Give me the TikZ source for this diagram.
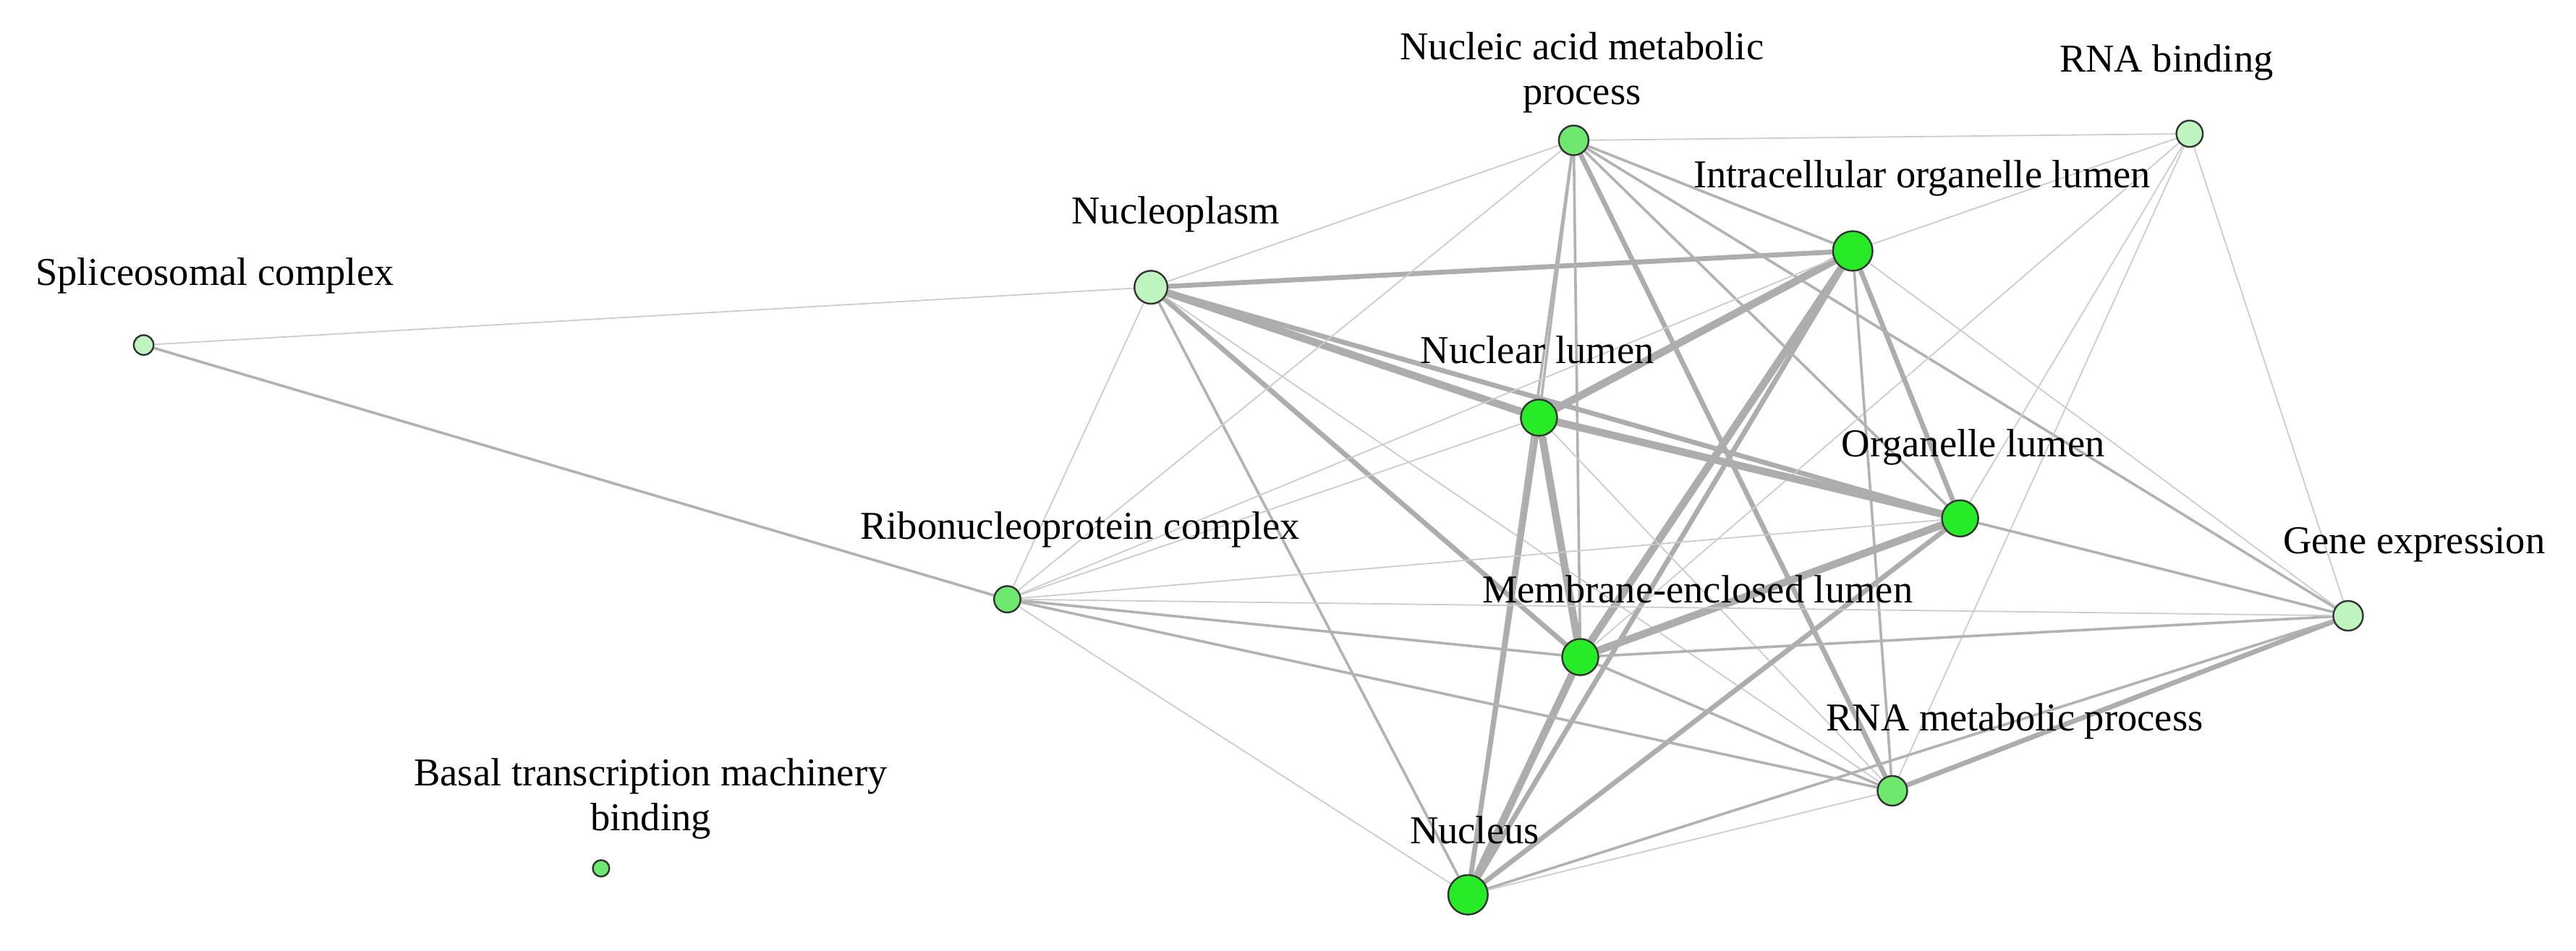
\documentclass[tikz,border=0pt]{standalone}
\usepackage{fontspec}
\setmainfont{Liberation Serif}
\pgfdeclarelayer{bg}
\pgfsetlayers{bg,main}
\begin{document}
\begin{tikzpicture}[x=0.02cm,y=-0.02cm,
  nd/.style={circle,draw=black!80,line width=0.6pt,inner sep=0pt},
  bright/.style={nd,fill={rgb,255:red,40;green,235;blue,40}},
  mid/.style={nd,fill={rgb,255:red,110;green,232;blue,110}},
  light/.style={nd,fill={rgb,255:red,190;green,245;blue,190}},
  lab/.style={font=\fontsize{13.6}{15.5}\selectfont,align=center,inner sep=0pt},
  e1/.style={draw=black!20,line width=0.45pt},
  e2/.style={draw=black!30,line width=0.9pt},
  e3/.style={draw=black!32,line width=1.7pt},
  e4/.style={draw=black!32,line width=2.6pt}]
\useasboundingbox (0,0) rectangle (1560,576);
\node[light,minimum size=0.24cm] (sp) at (87,209) {};
\node[light,minimum size=0.4cm] (np) at (697,174) {};
\node[mid,minimum size=0.36cm] (na) at (953,85) {};
\node[light,minimum size=0.32cm] (rb) at (1326,81) {};
\node[bright,minimum size=0.48cm] (io) at (1122,152) {};
\node[bright,minimum size=0.44cm] (nl) at (932,253) {};
\node[bright,minimum size=0.44cm] (ol) at (1187,314) {};
\node[light,minimum size=0.36cm] (ge) at (1422,373) {};
\node[mid,minimum size=0.32cm] (rc) at (610,363) {};
\node[bright,minimum size=0.44cm] (me) at (957,398) {};
\node[mid,minimum size=0.36cm] (rm) at (1146,479) {};
\node[bright,minimum size=0.48cm] (nu) at (889,542) {};
\node[mid,minimum size=0.2cm] (bt) at (364,526) {};
\begin{pgfonlayer}{bg}
\foreach \a/\b/\s in {sp/np/e1,sp/rc/e2,
 np/na/e1,np/io/e3,np/nl/e4,np/ol/e3,np/me/e3,np/nu/e2,np/rc/e1,np/rm/e1,
 na/rb/e1,na/io/e2,na/nl/e2,na/ol/e2,na/me/e2,na/ge/e2,na/rm/e3,na/nu/e2,na/rc/e1,
 rb/io/e1,rb/ge/e1,rb/ol/e1,rb/rm/e1,rb/me/e1,
 io/nl/e4,io/ol/e3,io/me/e4,io/nu/e3,io/rm/e2,io/ge/e1,io/rc/e1,
 nl/ol/e4,nl/me/e4,nl/nu/e3,nl/rm/e1,nl/rc/e1,
 ol/me/e4,ol/nu/e3,ol/ge/e2,ol/rc/e1,
 me/nu/e4,me/ge/e2,me/rm/e2,me/rc/e2,
 ge/rm/e3,ge/nu/e2,rc/nu/e1,rc/rm/e2,rc/ge/e1,nu/rm/e1}
 {\path[\s] (\a) -- (\b);}
\end{pgfonlayer}
\node[lab] (lsp) at (130,167) {Spliceosomal complex};
\node[lab] (lnp) at (712,130) {Nucleoplasm};
\node[lab] (lna) at (958,44) {Nucleic acid metabolic\\process};
\node[lab] (lrb) at (1312,38) {RNA binding};
\node[lab] (lio) at (1164,108) {Intracellular organelle lumen};
\node[lab] (lnl) at (931,212) {Nuclear lumen};
\node[lab] (lol) at (1195,271) {Organelle lumen};
\node[lab] (lge) at (1462,330) {Gene expression};
\node[lab] (lrc) at (654,321) {Ribonucleoprotein complex};
\node[lab] (lme) at (1028,357) {Membrane-enclosed lumen};
\node[lab] (lrm) at (1220,437) {RNA metabolic process};
\node[lab] (lnu) at (893,503) {Nucleus};
\node[lab] (lbt) at (394,484) {Basal transcription machinery\\binding};
\end{tikzpicture}
\end{document}
